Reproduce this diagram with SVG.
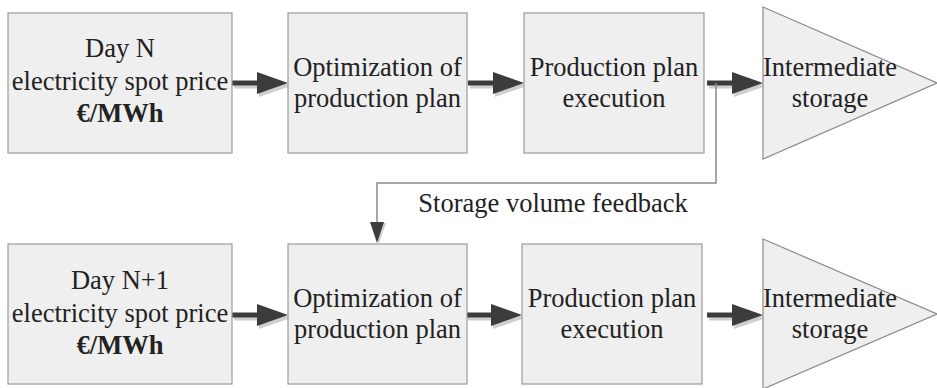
<svg xmlns="http://www.w3.org/2000/svg" width="937" height="388" viewBox="0 0 937 388">
  <style>
    .box { fill: #efefef; stroke: #9a9a9a; stroke-width: 1.2; }
    .tri { fill: #efefef; stroke: #8a8a8a; stroke-width: 1.2; }
    text { font-family: "Liberation Serif", Tinos, "Times New Roman", Times, "Noto Serif", "DejaVu Serif", serif; font-size: 26.5px; fill: #222; text-anchor: middle; }
    .bold { font-weight: bold; }
    .flow { stroke: #3c3c3c; stroke-width: 5; fill: none; }
    .flow-shadow { stroke: #cfcfcf; stroke-width: 5; fill: none; }
    .head { fill: #3c3c3c; }
    .head-shadow { fill: #cfcfcf; }
    .fb { stroke: #8c8c8c; stroke-width: 1.5; fill: none; }
  </style>
  <defs>
    <!-- thick flow arrow pointing right, tip at origin -->
    <g id="flowArrow">
      <path class="flow-shadow" d="M -54 3 H -26"/>
      <polygon class="head-shadow" points="-29,-8 3,3 -29,14"/>
      <path class="flow" d="M -56 0 H -28"/>
      <polygon class="head" points="-31,-11 0,0 -31,11"/>
    </g>
  </defs>

  <!-- connectors -->
  <g id="connectors">
    <use href="#flowArrow" x="288" y="83"/>
    <use href="#flowArrow" x="524" y="83"/>
    <use href="#flowArrow" x="763" y="83"/>
    <use href="#flowArrow" x="288" y="315"/>
    <use href="#flowArrow" x="522" y="315"/>
    <use href="#flowArrow" x="763" y="315"/>
    <!-- storage volume feedback loop -->
    <polyline class="fb" points="716,83 716,183 377,183 377,224"/>
    <polygon points="370,222 377,243 384,222" fill="#cfcfcf" transform="translate(2,1)"/>
    <polygon points="370,222 377,243 384,222" fill="#3c3c3c"/>
    <text x="553" y="212" font-family="Liberation Serif, serif">Storage volume feedback</text>
  </g>

  <!-- day N row -->
  <g id="price-n">
    <rect class="box" x="8" y="13" width="224" height="140"/>
    <text x="120" y="57">Day N</text>
    <text x="120" y="90">electricity spot price</text>
    <text class="bold" x="120" y="122">€/MWh</text>
  </g>
  <g id="optimization-n">
    <rect class="box" x="288" y="13" width="179" height="140"/>
    <text x="377.5" y="76">Optimization of</text>
    <text x="377.5" y="107">production plan</text>
  </g>
  <g id="execution-n">
    <rect class="box" x="524" y="13" width="180" height="140"/>
    <text x="614" y="76">Production plan</text>
    <text x="614" y="107">execution</text>
  </g>
  <g id="storage-n">
    <polygon class="tri" points="763,7 937,83 763,159"/>
    <text x="830" y="76">Intermediate</text>
    <text x="830" y="107">storage</text>
  </g>

  <!-- day N+1 row -->
  <g id="price-n1">
    <rect class="box" x="8" y="244" width="224" height="140"/>
    <text x="120" y="289">Day N+1</text>
    <text x="120" y="322">electricity spot price</text>
    <text class="bold" x="120" y="354">€/MWh</text>
  </g>
  <g id="optimization-n1">
    <rect class="box" x="288" y="244" width="179" height="140"/>
    <text x="377.5" y="307">Optimization of</text>
    <text x="377.5" y="338">production plan</text>
  </g>
  <g id="execution-n1">
    <rect class="box" x="522" y="244" width="180" height="140"/>
    <text x="612" y="307">Production plan</text>
    <text x="612" y="338">execution</text>
  </g>
  <g id="storage-n1">
    <polygon class="tri" points="763,239 937,314 763,389"/>
    <text x="830" y="307">Intermediate</text>
    <text x="830" y="338">storage</text>
  </g>
</svg>
